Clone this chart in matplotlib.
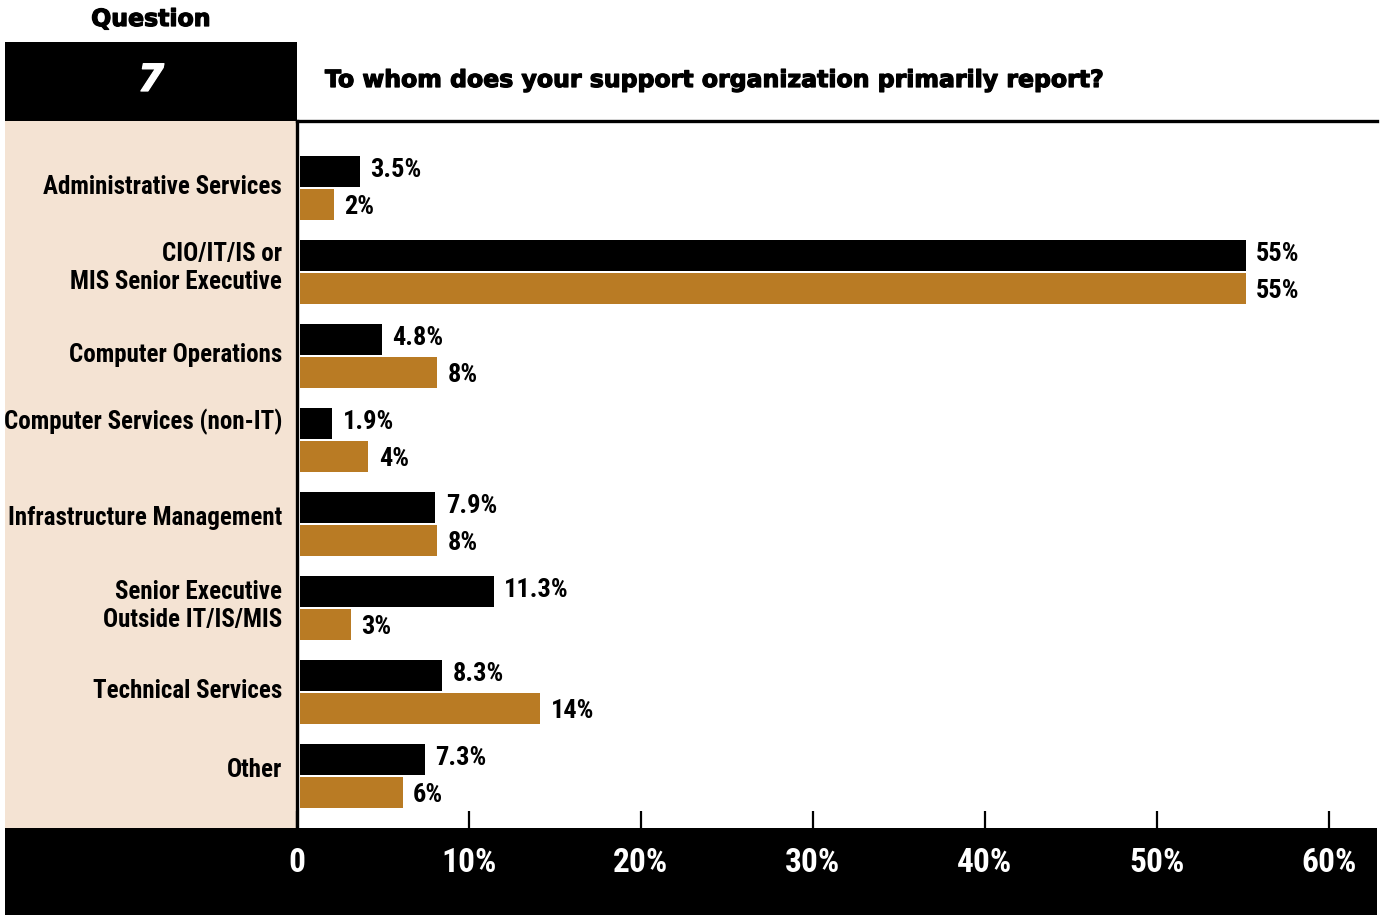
import matplotlib.pyplot as plt
import matplotlib.patheffects as pe
from matplotlib.patches import Rectangle
from matplotlib import font_manager
import numpy as np

categories = [
    "Administrative Services",
    "CIO/IT/IS or\nMIS Senior Executive",
    "Computer Operations",
    "Computer Services (non-IT)",
    "Infrastructure Management",
    "Senior Executive\nOutside IT/IS/MIS",
    "Technical Services",
    "Other",
]
series_black = [3.5, 55, 4.8, 1.9, 7.9, 11.3, 8.3, 7.3]
series_orange = [2, 55, 8, 4, 8, 3, 14, 6]
x_ticks = [0, 10, 20, 30, 40, 50, 60]
x_tick_labels = ["0", "10%", "20%", "30%", "40%", "50%", "60%"]

question_no = "7"
question_text = "To whom does your support organization primarily report?"

BLACK = "#000000"
ORANGE = "#B97B24"
BEIGE = "#F4E3D3"

names = {f.name for f in font_manager.fontManager.ttflist}
narrow = [f for f in ["Roboto Condensed", "Liberation Sans Narrow", "DejaVu Sans Condensed"] if f in names]
NARROW = narrow + ["DejaVu Sans"]
HEAVY = ["DejaVu Sans"]
thick = [pe.withStroke(linewidth=0.9, foreground="black")]
thick_w = [pe.withStroke(linewidth=0.9, foreground="white")]

W, H = 1384, 915
fig = plt.figure(figsize=(W / 100, H / 100), dpi=100)

# background layer in pixel units
bg = fig.add_axes([0, 0, 1, 1])
bg.set_xlim(0, W)
bg.set_ylim(H, 0)
bg.axis("off")
bg.add_patch(Rectangle((5, 42), 292, 79, color=BLACK, lw=0))
bg.add_patch(Rectangle((5, 121), 291, 708, color=BEIGE, lw=0))
bg.add_patch(Rectangle((5, 828), 1372, 87, color=BLACK, lw=0))
bg.text(151, 19, "Question", ha="center", va="center", fontsize=17,
        fontweight="bold", family=HEAVY, path_effects=thick)
bg.text(151, 81, question_no, ha="center", va="center", fontsize=27,
        fontweight="bold", style="italic", color="white", family=HEAVY,
        path_effects=thick_w)
bg.text(325, 80, question_text, ha="left", va="center", fontsize=17,
        fontweight="bold", family=HEAVY, path_effects=thick)

# chart area
ax = fig.add_axes([297 / W, (H - 828) / H, 1080 / W, (828 - 121) / H])
y = np.arange(len(categories))
px = 84.0  # pixels per group
ax.set_ylim(7 + (828 - 775) / px, -(187 - 121) / px)
ax.set_xlim(0, 1080 / 17.2)

h = 31 / px
ax.barh(y - 16 / px, series_black, height=h, color=BLACK, left=0.15)
ax.barh(y + 17 / px, series_orange, height=h, color=ORANGE, left=0.15)


def fmt(v):
    return f"{v:g}%"


for yi, vb, vo in zip(y, series_black, series_orange):
    ax.text(vb + 0.75, yi - 17 / px, fmt(vb), va="center", ha="left",
            fontsize=19, fontweight="bold", family=NARROW)
    ax.text(vo + 0.75, yi + 20 / px, fmt(vo), va="center", ha="left",
            fontsize=19, fontweight="bold", family=NARROW)

label_shift = [0, -3, 0, -17, -5, -1, 0, -5]
for yi, name, s in zip(y, categories, label_shift):
    ax.text(-15 / 17.2, yi + s / px, name, ha="right", va="center",
            fontsize=18, fontweight="bold", family=NARROW, linespacing=1.25)

for side in ["right", "bottom"]:
    ax.spines[side].set_visible(False)
ax.spines["left"].set_linewidth(2.4)
ax.spines["top"].set_linewidth(2.4)

ax.set_yticks([])
ax.set_xticks(x_ticks)
ax.set_xticklabels(x_tick_labels)
ax.tick_params(axis="x", direction="in", length=12, width=1.6, color=BLACK,
               pad=14, labelcolor="white", labelsize=24)
for t in ax.get_xticklabels():
    t.set_fontweight("bold")
    t.set_family(NARROW)

fig.savefig("out.png", dpi=100)
